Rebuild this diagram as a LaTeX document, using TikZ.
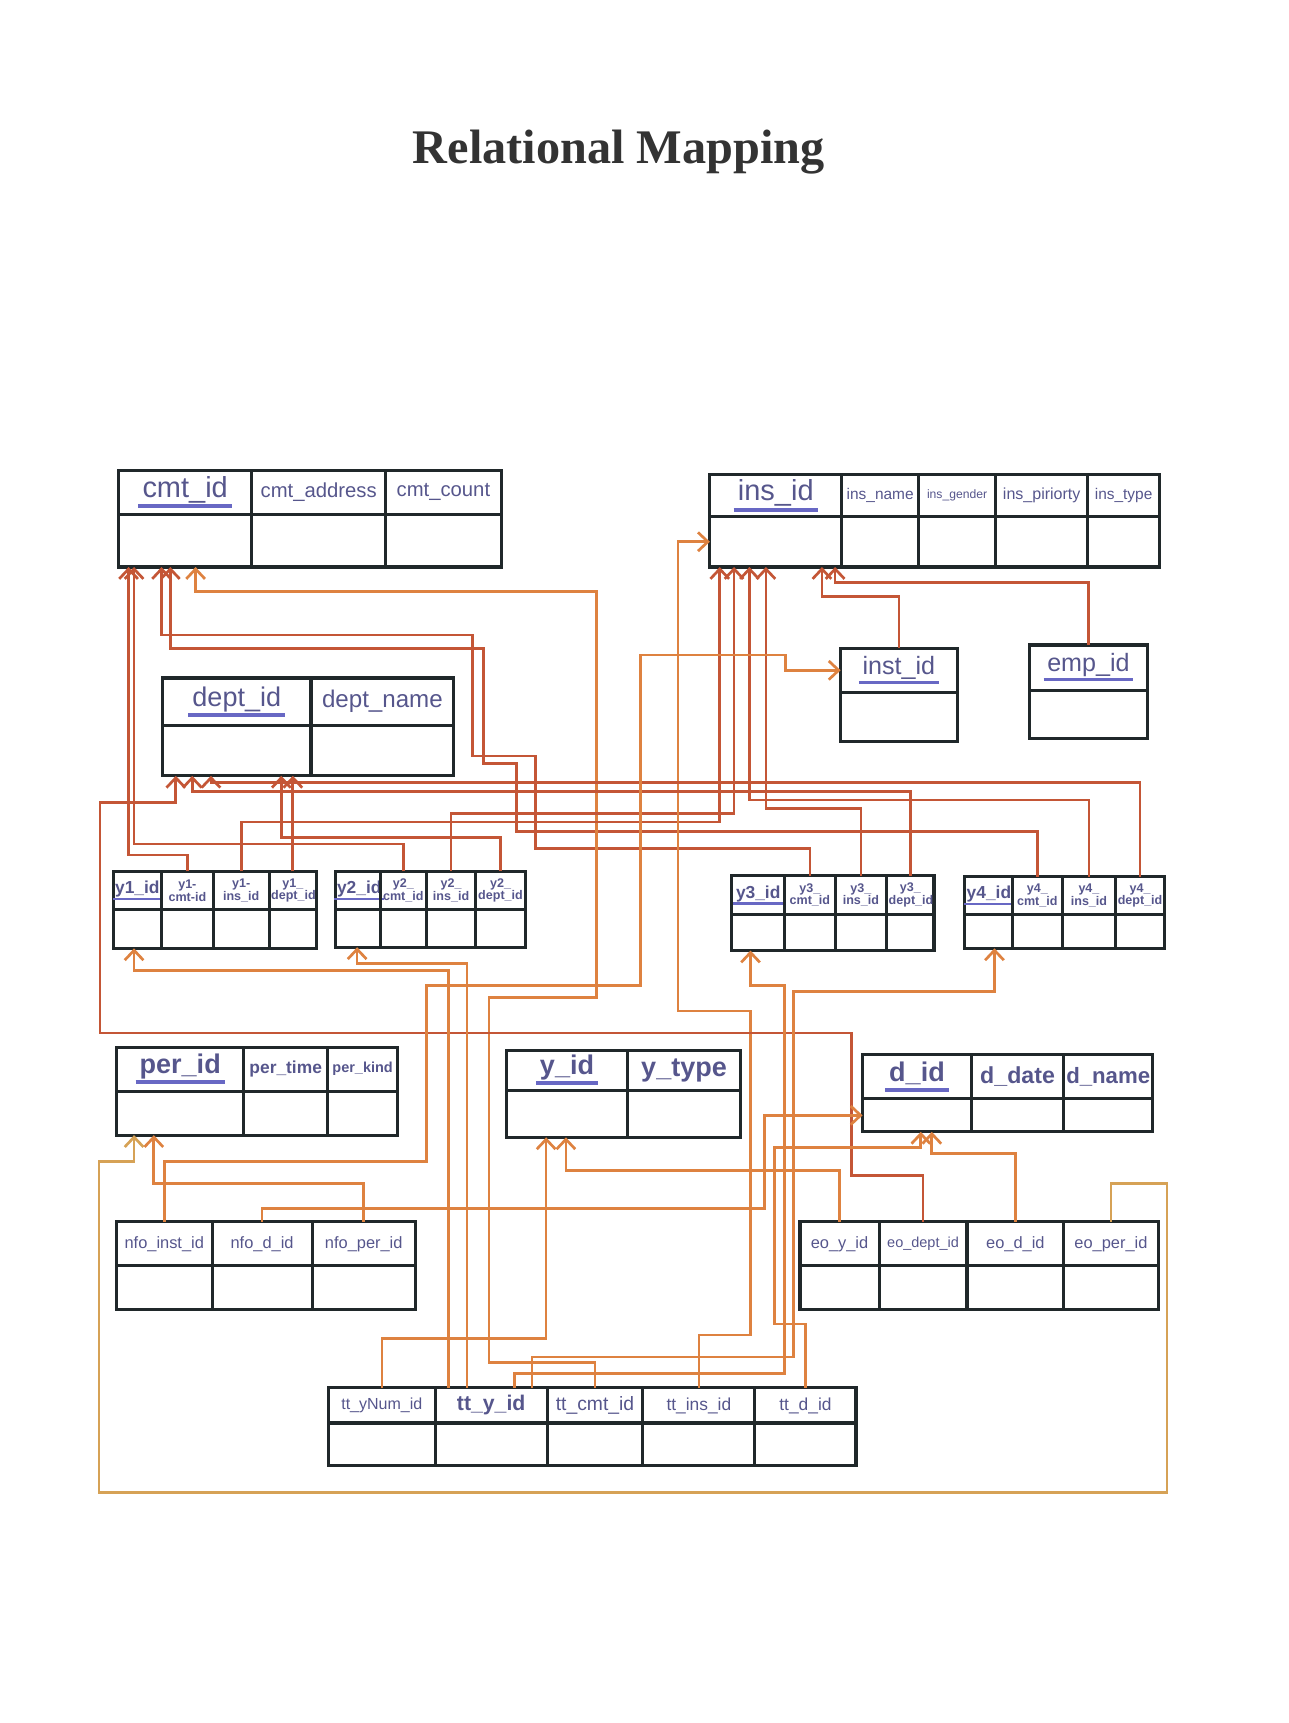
\documentclass[tikz,border=0pt]{standalone}
\usepackage{fontspec}
\setmainfont{Liberation Sans}
\newfontfamily\titlefont{Liberation Serif}
\usepackage{xcolor}
\usepackage{tikz}
\usetikzlibrary{arrows.meta,positioning}

\definecolor{cellink}{RGB}{86,86,140}
\definecolor{pkbar}{RGB}{104,104,196}
\definecolor{fkred}{RGB}{196,86,54}
\definecolor{fkorange}{RGB}{222,130,64}
\definecolor{fkgold}{RGB}{214,162,86}
\definecolor{frame}{RGB}{32,40,42}

\newcommand{\pxu}{0.02cm}
\newcommand{\cellfont}[1]{\fontsize{#1}{#1}\selectfont}
\newcommand{\pkey}[1]{\setbox0=\hbox{#1}\leavevmode\rlap{\kern-0.15em\textcolor{pkbar}{\rule[-0.38em]{\dimexpr\wd0+0.3em\relax}{0.14em}}}\box0}
% one column: header cell + empty body cell below it
\newcommand{\dbcol}[8]{%
  \pgfmathsetlengthmacro{\cellw}{#4*\pxu-2pt}%
  \pgfmathsetlengthmacro{\cellfw}{#4*\pxu}%
  \pgfmathsetlengthmacro{\cellhh}{#5*\pxu}%
  \pgfmathsetlengthmacro{\cellbh}{#6*\pxu}%
  \node[headcell, text width=\cellw, minimum height=\cellhh, font=#7] (#1) at (#2,#3) {#8};
  \node[bodycell, minimum width=\cellfw, minimum height=\cellbh, below=0pt of #1] (#1b) {};
}

\begin{document}
\begin{tikzpicture}[
    x=0.02cm, y=-0.02cm,
    headcell/.style={draw=frame, line width=1.6pt, anchor=north west, outer sep=0pt, inner sep=1pt, align=center, text=cellink},
    bodycell/.style={draw=frame, line width=1.6pt, outer sep=0pt, inner sep=0pt},
    fk/.style={draw=fkred, line width=1.4pt, -{Straight Barb[length=1.8mm,width=3.4mm]}},
    fklow/.style={fk, draw=fkorange},
    fkloop/.style={fk, draw=fkgold}
]
\useasboundingbox (0,0) rectangle (1173,1568);

\node[font=\titlefont\bfseries\fontsize{25}{30}\selectfont, text=black!80] (title) at (563,138) {Relational Mapping};

% cmt
\dbcol{cmtid}{108}{428}{121}{40}{48}{\cellfont{15}}{\pkey{cmt\_id}}
\dbcol{cmtaddr}{229}{428}{122}{40}{48}{\cellfont{10.5}}{cmt\_address}
\dbcol{cmtcount}{351}{428}{105}{40}{48}{\cellfont{10.5}}{cmt\_count}
% ins
\dbcol{insid}{646}{432}{120}{38}{46}{\cellfont{15}}{\pkey{ins\_id}}
\dbcol{insname}{766}{432}{70}{38}{46}{\cellfont{8}}{ins\_name}
\dbcol{insgender}{836}{432}{70}{38}{46}{\cellfont{6.3}}{ins\_gender}
\dbcol{inspri}{906}{432}{84}{38}{46}{\cellfont{8.3}}{ins\_piriorty}
\dbcol{instype}{990}{432}{65}{38}{46}{\cellfont{8}}{ins\_type}
% dept
\dbcol{deptid}{148}{617}{135}{43}{46}{\cellfont{14}}{\pkey{dept\_id}}
\dbcol{deptname}{283}{617}{130}{43}{46}{\cellfont{12.5}}{dept\_name}
% inst, emp
\dbcol{instid}{765}{590}{106}{40}{45}{\cellfont{13}}{\pkey{inst\_id}}
\dbcol{empid}{937}{587}{107}{41}{44}{\cellfont{13}}{\pkey{emp\_id}}
% y1 .. y4
\dbcol{y1id}{103}{793}{44}{35}{35}{\bfseries\cellfont{9}}{\pkey{y1\_id}}
\dbcol{y1cmt}{147}{793}{47}{35}{35}{\bfseries\cellfont{6.5}}{y1-\\cmt-id}
\dbcol{y1ins}{194}{793}{51}{35}{35}{\bfseries\cellfont{6.5}}{y1-\\ins\_id}
\dbcol{y1dept}{245}{793}{43}{35}{35}{\bfseries\cellfont{6.5}}{y1\_\\dept\_id}
\dbcol{y2id}{305}{793}{41}{35}{34}{\bfseries\cellfont{9}}{\pkey{y2\_id}}
\dbcol{y2cmt}{346}{793}{42}{35}{34}{\bfseries\cellfont{6.5}}{y2\_\\cmt\_id}
\dbcol{y2ins}{388}{793}{45}{35}{34}{\bfseries\cellfont{6.5}}{y2\_\\ins\_id}
\dbcol{y2dept}{433}{793}{45}{35}{34}{\bfseries\cellfont{6.5}}{y2\_\\dept\_id}
\dbcol{y3id}{666}{797}{48}{35}{33}{\bfseries\cellfont{9}}{\pkey{y3\_id}}
\dbcol{y3cmt}{714}{797}{46}{35}{33}{\bfseries\cellfont{6.5}}{y3\_\\cmt\_id}
\dbcol{y3ins}{760}{797}{47}{35}{33}{\bfseries\cellfont{6.5}}{y3\_\\ins\_id}
\dbcol{y3dept}{807}{797}{43}{35}{33}{\bfseries\cellfont{6.5}}{y3\_\\dept\_id}
\dbcol{y4id}{878}{798}{43}{34}{31}{\bfseries\cellfont{9}}{\pkey{y4\_id}}
\dbcol{y4cmt}{921}{798}{46}{34}{31}{\bfseries\cellfont{6.5}}{y4\_\\cmt\_id}
\dbcol{y4ins}{967}{798}{48}{34}{31}{\bfseries\cellfont{6.5}}{y4\_\\ins\_id}
\dbcol{y4dept}{1015}{798}{45}{34}{31}{\bfseries\cellfont{6.5}}{y4\_\\dept\_id}
% per, y, d
\dbcol{perid}{106}{953}{116}{40}{40}{\bfseries\cellfont{14}}{\pkey{per\_id}}
\dbcol{pertime}{222}{953}{76}{40}{40}{\bfseries\cellfont{9}}{per\_time}
\dbcol{perkind}{298}{953}{64}{40}{40}{\bfseries\cellfont{7.5}}{per\_kind}
\dbcol{yid}{461}{956}{110}{36}{43}{\bfseries\cellfont{14}}{\pkey{y\_id}}
\dbcol{ytype}{571}{956}{103}{36}{43}{\bfseries\cellfont{14}}{y\_type}
\dbcol{did}{785}{960}{99}{40}{30}{\bfseries\cellfont{14}}{\pkey{d\_id}}
\dbcol{ddate}{884}{960}{84}{40}{30}{\bfseries\cellfont{12}}{d\_date}
\dbcol{dname}{968}{960}{81}{40}{30}{\bfseries\cellfont{11.5}}{d\_name}
% nfo, eo
\dbcol{nfoinst}{106}{1112}{87}{40}{40}{\cellfont{8.5}}{nfo\_inst\_id}
\dbcol{nfod}{193}{1112}{91}{40}{40}{\cellfont{8.5}}{nfo\_d\_id}
\dbcol{nfoper}{284}{1112}{94}{40}{40}{\cellfont{8.5}}{nfo\_per\_id}
\dbcol{eoy}{728}{1112}{72}{40}{40}{\cellfont{8.5}}{eo\_y\_id}
\dbcol{eodept}{800}{1112}{80}{40}{40}{\cellfont{7.5}}{eo\_dept\_id}
\dbcol{eod}{880}{1112}{88}{40}{40}{\cellfont{8.5}}{eo\_d\_id}
\dbcol{eoper}{968}{1112}{86}{40}{40}{\cellfont{8.5}}{eo\_per\_id}
% tt
\dbcol{ttnum}{299}{1263}{97}{32}{39}{\cellfont{8.3}}{tt\_yNum\_id}
\dbcol{tty}{396}{1263}{102}{32}{39}{\bfseries\cellfont{11}}{tt\_y\_id}
\dbcol{ttcmt}{498}{1263}{87}{32}{39}{\cellfont{10}}{tt\_cmt\_id}
\dbcol{ttins}{585}{1263}{102}{32}{39}{\cellfont{9}}{tt\_ins\_id}
\dbcol{ttd}{687}{1263}{92}{32}{39}{\cellfont{9}}{tt\_d\_id}

% into cmt_id
\draw[fk] (y1cmt.north) |- (117,778) -- (117,0 |- cmtidb.south);
\draw[fk] (y2cmt.north) |- (122,768) -- (122,0 |- cmtidb.south);
\draw[fk] (y3cmt.north) |- (487,772) -- (487,688) -- (430,688) -- (430,578) -- (147,578) -- (147,0 |- cmtidb.south);
\draw[fk] (y4cmt.north) |- (470,757) -- (470,695) -- (440,695) -- (440,590) -- (155,590) -- (155,0 |- cmtidb.south);
\draw[fklow] (ttcmt.north) |- (445,1240) -- (445,908) -- (543,908) -- (543,538) -- (178,538) -- (178,0 |- cmtidb.south);

% into ins_id
\draw[fk] (instid.north) |- (748,543) -- (748,0 |- insidb.south);
\draw[fk] (empid.north) |- (760,530) -- (760,0 |- insidb.south);
\draw[fk] (y1ins.north) |- (655,748) -- (655,0 |- insidb.south);
\draw[fk] (y2ins.north) |- (668,740) -- (668,0 |- insidb.south);
\draw[fk] (y4ins.north) |- (682,728) -- (682,0 |- insidb.south);
\draw[fk] (y3ins.north) |- (697,736) -- (697,0 |- insidb.south);
\draw[fklow] (ttins.north) |- (683,1215) -- (683,920) -- (617,920) |- (insidb.west);

% into dept_id
\draw[fk] (y1dept.north) -- (y1dept.north |- deptidb.south);
\draw[fk] (y2dept.north) |- (256,762) -- (256,0 |- deptidb.south);
\draw[fk] (y3dept.north) |- (175,720) -- (175,0 |- deptidb.south);
\draw[fk] (y4dept.north) |- (192,712) -- (192,0 |- deptidb.south);
\draw[fk] (eodept.north) |- (775,1070) -- (775,940) -- (91,940) -- (91,730) -- (160,730) -- (160,0 |- deptidb.south);

% into per_id
\draw[fkloop] (eoper.north) |- (1062,1077) -- (1062,1358) -- (90,1358) -- (90,1057) -- (122,1057) -- (122,0 |- peridb.south);
\draw[fklow] (nfoper.north) |- (140,1077) -- (140,0 |- peridb.south);

% into inst_id
\draw[fklow] (nfoinst.north) |- (388,1057) -- (388,897) -- (583,897) -- (583,596) -- (715,596) |- (instid.west);

% into y_id
\draw[fklow] (eoy.north) |- (515,1065) -- (515,0 |- yidb.south);
\draw[fklow] (ttnum.north) |- (497,1218) -- (497,0 |- yidb.south);

% into y1_id .. y4_id
\draw[fklow] (408,0 |- tty.north) |- (122,883) -- (122,0 |- y1idb.south);
\draw[fklow] (425,0 |- tty.north) |- (325,877) -- (325,0 |- y2idb.south);
\draw[fklow] (468,0 |- tty.north) |- (714,1250) -- (714,897) -- (683,897) -- (683,0 |- y3idb.south);
\draw[fklow] (484,0 |- tty.north) |- (722,1235) -- (722,902) -- (905,902) -- (905,0 |- y4idb.south);

% into d_id
\draw[fklow] (eod.north) |- (848,1050) -- (848,0 |- didb.south);
\draw[fklow] (ttd.north) |- (705,1205) -- (705,1044) -- (838,1044) -- (838,0 |- didb.south);
\draw[fklow] (nfod.north) |- (696,1100) |- (didb.west);
\end{tikzpicture}
\end{document}
